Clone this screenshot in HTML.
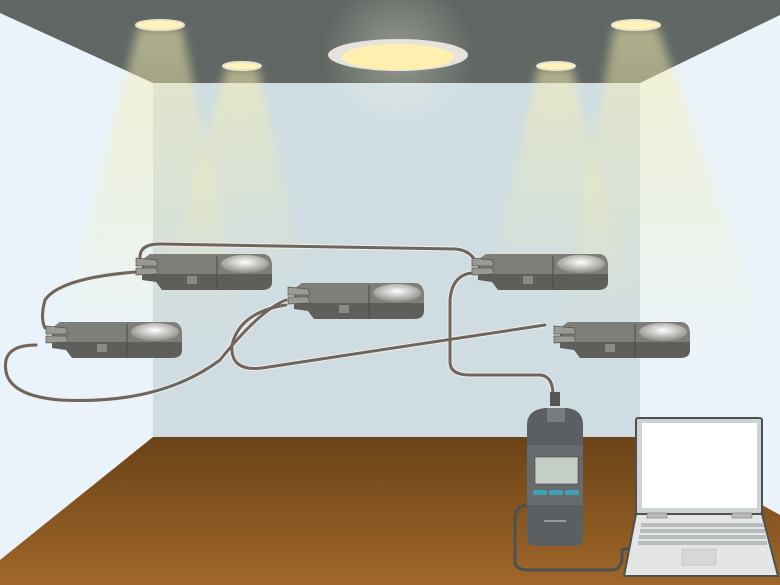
<!DOCTYPE html>
<html><head><meta charset="utf-8"><style>html,body{margin:0;padding:0;background:#fff}svg{display:block}</style></head>
<body>
<svg width="780" height="585" viewBox="0 0 780 585" xmlns="http://www.w3.org/2000/svg">
<defs>
<linearGradient id="fl" x1="0" y1="0" x2="0" y2="1"><stop offset="0" stop-color="#6a4318"/><stop offset="1" stop-color="#a0672a"/></linearGradient>
<linearGradient id="bm" x1="0" y1="0" x2="0" y2="1"><stop offset="0" stop-color="#f6eeb0" stop-opacity="0.55"/><stop offset="1" stop-color="#f6eeb0" stop-opacity="0"/></linearGradient>
<radialGradient id="dm" cx="0.5" cy="0.4" r="0.6"><stop offset="0" stop-color="#ffffff"/><stop offset="1" stop-color="#8d8c86"/></radialGradient>
<radialGradient id="glow" cx="0.5" cy="0.5" r="0.5"><stop offset="0" stop-color="#fffbe0" stop-opacity="0.35"/><stop offset="1" stop-color="#fffbe0" stop-opacity="0"/></radialGradient>
<filter id="bl"><feGaussianBlur stdDeviation="5"/></filter>
<g id="sensor">
 <path d="M0,6 L8,0 L120,0 Q130,0 130,14 L130,28 Q130,36 120,36 L20,36 L14,28 L0,26 Z" fill="#5e5e5b"/>
 <path d="M8,0 L120,0 Q130,0 130,12 L130,20 L14,20 L0,12 L0,6 Z" fill="#7f7f7a"/>
 <line x1="75" y1="2" x2="75" y2="36" stroke="#4a4a48" stroke-width="1"/>
 <ellipse cx="103" cy="10" rx="24" ry="9" fill="url(#dm)"/>
 <rect x="45" y="22" width="10" height="8" fill="#8a8a86"/>
 <path d="M-6,4 L14,6 L16,12 L-6,12 Z" fill="#9a9a94" stroke="#555" stroke-width="0.7"/>
 <path d="M-6,14 L14,14 L16,20 L-6,21 Z" fill="#9a9a94" stroke="#555" stroke-width="0.7"/>
</g>
</defs>
<rect width="780" height="585" fill="#eaf3fa"/>
<rect x="153" y="83" width="487" height="354" fill="#cfdde3"/>
<polygon points="0,0 780,0 780,15 640,83 153,83 0,13" fill="#5f6663"/>
<polygon points="153,437 640,437 780,515 780,585 0,585 0,560" fill="url(#fl)"/>
<g filter="url(#bl)">
<polygon points="138,28 182,28 250,360 55,360" fill="url(#bm)"/>
<polygon points="226,68 258,68 310,300 160,300" fill="url(#bm)"/>
<polygon points="538,68 572,68 630,300 485,300" fill="url(#bm)"/>
<polygon points="614,28 658,28 775,360 555,360" fill="url(#bm)"/>
</g>
<circle cx="398" cy="55" r="78" fill="url(#glow)"/>
<ellipse cx="160" cy="25" rx="24" ry="5" fill="#fff3b8" stroke="#e8e4d0" stroke-width="2"/>
<ellipse cx="242" cy="66" rx="19" ry="4" fill="#fff3b8" stroke="#e8e4d0" stroke-width="2"/>
<ellipse cx="556" cy="66" rx="19" ry="4" fill="#fff3b8" stroke="#e8e4d0" stroke-width="2"/>
<ellipse cx="636" cy="25" rx="24" ry="5" fill="#fff3b8" stroke="#e8e4d0" stroke-width="2"/>
<ellipse cx="398" cy="55" rx="70" ry="16" fill="#e6e3dc"/>
<ellipse cx="398" cy="57" rx="56" ry="13" fill="#fff0b0"/>
<g fill="none" stroke-linecap="round">
<g stroke="#f0ede8" stroke-width="5">
<path d="M140,257 Q140,244 160,244 L455,249 Q470,250 476,262"/>
<path d="M136,272 Q60,278 45,300 Q40,318 45,328"/>
<path d="M36,345 Q10,345 6,360 Q0,395 60,400 Q160,405 220,360 Q260,310 286,300"/>
<path d="M286,305 Q240,312 232,345 Q230,372 262,368 L545,325"/>
<path d="M472,273 Q452,275 450,300 L450,362 Q450,375 470,375 L540,375 Q553,376 553,395"/>
</g>
<g stroke="#6e655e" stroke-width="3">
<path d="M140,257 Q140,244 160,244 L455,249 Q470,250 476,262"/>
<path d="M136,272 Q60,278 45,300 Q40,318 45,328"/>
<path d="M36,345 Q10,345 6,360 Q0,395 60,400 Q160,405 220,360 Q260,310 286,300"/>
<path d="M286,305 Q240,312 232,345 Q230,372 262,368 L545,325"/>
<path d="M472,273 Q452,275 450,300 L450,362 Q450,375 470,375 L540,375 Q553,376 553,395"/>
</g>
<path d="M528,505 Q515,505 515,520 L515,562 Q515,570 530,570 L612,570 Q620,570 622,560 L622,550 L630,548" stroke="#4d5150" stroke-width="3"/>
</g>
<use href="#sensor" x="142" y="254"/>
<use href="#sensor" x="294" y="283"/>
<use href="#sensor" x="478" y="254"/>
<use href="#sensor" x="52" y="322"/>
<use href="#sensor" x="560" y="322"/>
<rect x="550" y="392" width="10" height="14" fill="#555"/>
<path d="M527,425 Q527,410 545,408 L567,408 Q583,410 583,425 L583,538 Q583,546 575,546 L535,546 Q527,546 527,538 Z" fill="#5c5f61"/>
<rect x="527" y="445" width="56" height="60" fill="#686b6d"/>
<rect x="547" y="408" width="18" height="14" fill="#7a7d7e"/>
<rect x="535" y="457" width="43" height="27" fill="#c6cfc5" stroke="#444" stroke-width="0.6"/>
<rect x="533" y="490" width="14" height="5" rx="2" fill="#3fa2b4"/>
<rect x="549" y="490" width="14" height="5" rx="2" fill="#3fa2b4"/>
<rect x="565" y="490" width="14" height="5" rx="2" fill="#3fa2b4"/>
<rect x="544" y="520" width="22" height="2" fill="#999"/>
<rect x="636" y="418" width="126" height="96" rx="2" fill="#d0d3d4" stroke="#4d5150" stroke-width="2"/>
<rect x="642" y="423" width="115" height="85" fill="#fff"/>
<path d="M636,514 L762,514 L778,576 L624,576 Z" fill="#e4e6e6" stroke="#4d5150" stroke-width="2"/>
<rect x="647" y="513" width="20" height="5" fill="#bbb" stroke="#666" stroke-width="0.5"/>
<rect x="732" y="513" width="20" height="5" fill="#bbb" stroke="#666" stroke-width="0.5"/>
<g fill="#b9bcbd">
<rect x="641" y="523" width="123" height="4"/>
<rect x="640" y="529" width="125" height="4"/>
<rect x="639" y="535" width="127" height="4"/>
<rect x="638" y="541" width="129" height="4"/>
</g>
<rect x="682" y="549" width="34" height="16" fill="#d6d8d8" stroke="#bbb" stroke-width="0.6"/>
</svg>
</body></html>
